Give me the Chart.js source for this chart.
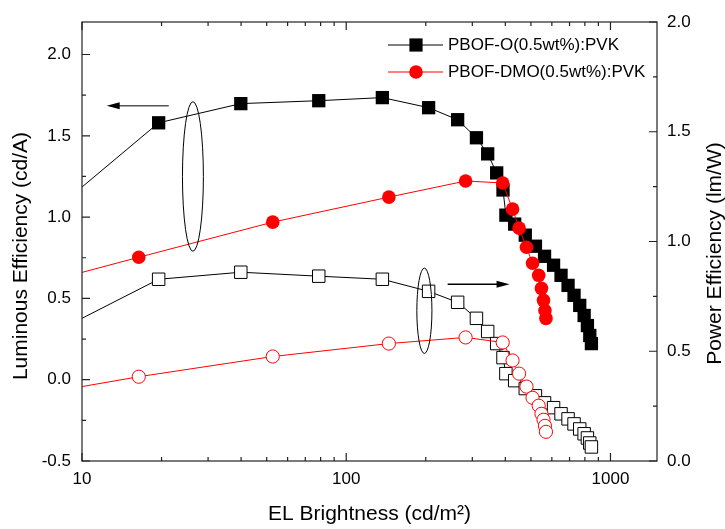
<!DOCTYPE html>
<html>
<head>
<meta charset="utf-8">
<script src="https://cdn.jsdelivr.net/npm/chart.js@4"></script>
<style>
  body { margin: 0; background: #fff; }
</style>
</head>
<body>
<canvas id="chart" width="725" height="529"></canvas>
<script>
// PBOF-O(0.5wt%):PVK  (first point is where the line enters at the left edge)
const oBrightness = [10, 19.5, 39.9, 78.7, 137, 205, 264, 311, 343, 371, 392, 402, 434, 476, 520, 563, 609, 650, 691, 728, 765, 795, 818, 835, 847];
const oLumEff = [1.185, 1.58, 1.698, 1.716, 1.735, 1.673, 1.599, 1.488, 1.389, 1.272, 1.167, 1.012, 0.957, 0.889, 0.821, 0.759, 0.704, 0.642, 0.58, 0.519, 0.457, 0.395, 0.333, 0.272, 0.222];
const oPowEff = [0.65, 0.828, 0.86, 0.842, 0.828, 0.773, 0.723, 0.65, 0.59, 0.535, 0.471, 0.398, 0.366, 0.33, 0.297, 0.265, 0.243, 0.215, 0.192, 0.169, 0.146, 0.124, 0.105, 0.082, 0.064];

// PBOF-DMO(0.5wt%):PVK
const dBrightness = [10, 16.4, 52.7, 145, 283, 391, 426, 451, 481, 507, 535, 548, 558, 565, 570];
const dLumEff = [0.66, 0.753, 0.969, 1.123, 1.222, 1.21, 1.049, 0.932, 0.815, 0.716, 0.642, 0.562, 0.488, 0.426, 0.377];
const dPowEff = [0.339, 0.384, 0.476, 0.535, 0.563, 0.54, 0.458, 0.398, 0.339, 0.288, 0.252, 0.215, 0.188, 0.16, 0.133];

const xTicks = [10, 100, 1000];
const leftTicks = [-0.5, 0, 0.5, 1, 1.5, 2];
const rightTicks = [0, 0.5, 1, 1.5, 2];

const FONT = '"Liberation Sans", Arial, sans-serif';
Chart.defaults.font.family = FONT;

const pts = (xs, ys) => xs.map((x, i) => ({ x: x, y: ys[i] }));
const hideFirst = r => ctx => ctx.dataIndex === 0 ? 0 : r;

// frame, inward ticks, arrows/ellipses, legend and y titles
const decor = {
  id: 'decor',
  afterDatasetsDraw(chart) {
    const ctx = chart.ctx;
    const { left, right, top, bottom } = chart.chartArea;
    const sx = chart.scales.x, sy = chart.scales.y, sy1 = chart.scales.y1;
    ctx.save();
    ctx.strokeStyle = '#222';
    ctx.lineWidth = 1.2;
    ctx.strokeRect(left, top, right - left, bottom - top);

    ctx.beginPath();
    const xMinor = [];
    [10, 100].forEach(d => { for (let k = 2; k <= 9; k++) xMinor.push(k * d); });
    xTicks.forEach(v => {
      const p = sx.getPixelForValue(v);
      ctx.moveTo(p, bottom); ctx.lineTo(p, bottom - 8);
      ctx.moveTo(p, top); ctx.lineTo(p, top + 8);
    });
    xMinor.forEach(v => {
      const p = sx.getPixelForValue(v);
      ctx.moveTo(p, bottom); ctx.lineTo(p, bottom - 4);
      ctx.moveTo(p, top); ctx.lineTo(p, top + 4);
    });
    leftTicks.forEach(v => {
      const p = sy.getPixelForValue(v);
      ctx.moveTo(left, p); ctx.lineTo(left + 8, p);
      if (v + 0.25 < 2.2) {
        const q = sy.getPixelForValue(v + 0.25);
        ctx.moveTo(left, q); ctx.lineTo(left + 4, q);
      }
    });
    rightTicks.forEach(v => {
      const p = sy1.getPixelForValue(v);
      ctx.moveTo(right, p); ctx.lineTo(right - 8, p);
      if (v + 0.25 < 2) {
        const q = sy1.getPixelForValue(v + 0.25);
        ctx.moveTo(right, q); ctx.lineTo(right - 4, q);
      }
    });
    ctx.stroke();

    // ellipses marking which curves belong to which axis
    ctx.lineWidth = 1;
    ctx.strokeStyle = '#000';
    const ell = (scale, x0, x1, y0, y1) => {
      const a = sx.getPixelForValue(x0), b = sx.getPixelForValue(x1);
      const c = scale.getPixelForValue(y0), d = scale.getPixelForValue(y1);
      ctx.beginPath();
      ctx.ellipse((a + b) / 2, (c + d) / 2, Math.abs(b - a) / 2, Math.abs(d - c) / 2, 0, 0, Math.PI * 2);
      ctx.stroke();
    };
    ell(sy, 24.0, 28.8, 1.71, 0.79);
    ell(sy1, 185, 211, 0.879, 0.49);

    const arrow = (scale, xFrom, xTip, yv, color) => {
      const a = sx.getPixelForValue(xFrom), t = sx.getPixelForValue(xTip), y = scale.getPixelForValue(yv);
      const dir = t > a ? 1 : -1;
      ctx.strokeStyle = color;
      ctx.lineWidth = 1.4;
      ctx.beginPath();
      ctx.moveTo(a, y); ctx.lineTo(t - dir * 8, y);
      ctx.stroke();
      ctx.fillStyle = '#000';
      ctx.beginPath();
      ctx.moveTo(t, y);
      ctx.lineTo(t - dir * 13, y - 3.5);
      ctx.lineTo(t - dir * 13, y + 3.5);
      ctx.closePath();
      ctx.fill();
    };
    arrow(sy, 21.3, 12.4, 1.685, '#555');
    arrow(sy1, 242, 415, 0.805, '#000');
    ctx.restore();
  },
  afterDraw(chart) {
    const ctx = chart.ctx;
    ctx.save();
    // legend
    ctx.font = '17px ' + FONT;
    ctx.textBaseline = 'middle';
    ctx.textAlign = 'left';
    const rows = [
      { y: 45, color: '#000', shape: 'rect', label: 'PBOF-O(0.5wt%):PVK' },
      { y: 72, color: '#ff0000', shape: 'circle', label: 'PBOF-DMO(0.5wt%):PVK' }
    ];
    rows.forEach(r => {
      ctx.strokeStyle = r.color;
      ctx.fillStyle = r.color;
      ctx.lineWidth = 1;
      ctx.beginPath();
      ctx.moveTo(388, r.y); ctx.lineTo(443, r.y);
      ctx.stroke();
      if (r.shape === 'rect') {
        ctx.fillRect(416 - 6.6, r.y - 6.6, 13.2, 13.2);
      } else {
        ctx.beginPath();
        ctx.arc(416, r.y, 6.8, 0, Math.PI * 2);
        ctx.fill();
      }
      ctx.fillStyle = '#000';
      ctx.fillText(r.label, 448, r.y);
    });

    // y axis titles (both read bottom to top)
    ctx.font = '21px ' + FONT;
    ctx.textAlign = 'center';
    ctx.fillStyle = '#000';
    const vtext = (txt, x, y) => {
      ctx.save();
      ctx.translate(x, y);
      ctx.rotate(-Math.PI / 2);
      ctx.fillText(txt, 0, 0);
      ctx.restore();
    };
    vtext('Luminous Efficiency (cd/A)', 21, 256);
    vtext('Power Efficiency (lm/W)', 715.5, 253.5);
    ctx.restore();
  }
};

const tickFont = { size: 17, family: FONT };

new Chart(document.getElementById('chart').getContext('2d'), {
  type: 'line',
  data: {
    datasets: [
      {
        label: 'PBOF-DMO(0.5wt%):PVK',
        data: pts(dBrightness, dLumEff),
        yAxisID: 'y',
        borderColor: '#ff0000',
        borderWidth: 1,
        backgroundColor: '#ff0000',
        pointStyle: 'circle',
        pointRadius: hideFirst(6.8),
        pointBorderWidth: 0,
        order: 1
      },
      {
        label: 'PBOF-DMO PE',
        data: pts(dBrightness, dPowEff),
        yAxisID: 'y1',
        borderColor: '#ff0000',
        borderWidth: 1,
        backgroundColor: '#ffffff',
        pointStyle: 'circle',
        pointRadius: hideFirst(6.6),
        pointBorderWidth: 1,
        order: 1
      },
      {
        label: 'PBOF-O(0.5wt%):PVK',
        data: pts(oBrightness, oLumEff),
        yAxisID: 'y',
        borderColor: '#000',
        borderWidth: 1,
        backgroundColor: '#000',
        pointStyle: 'rect',
        pointRadius: hideFirst(9.4),
        pointBorderWidth: 0,
        order: 2
      },
      {
        label: 'PBOF-O PE',
        data: pts(oBrightness, oPowEff),
        yAxisID: 'y1',
        borderColor: '#000',
        borderWidth: 1,
        backgroundColor: '#ffffff',
        pointStyle: 'rect',
        pointRadius: hideFirst(8.8),
        pointBorderWidth: 1,
        order: 2
      }
    ]
  },
  options: {
    responsive: false,
    animation: false,
    devicePixelRatio: 1,
    layout: { padding: { top: 22, left: 0, right: 0, bottom: 0 } },
    plugins: { legend: { display: false }, tooltip: { enabled: false } },
    elements: { line: { tension: 0 } },
    scales: {
      x: {
        type: 'logarithmic',
        position: 'bottom',
        min: 10,
        max: 1500,
        afterBuildTicks: s => { s.ticks = xTicks.map(v => ({ value: v })); },
        afterFit: s => { s.height = 68; },
        grid: { display: false, drawTicks: false },
        border: { display: false },
        ticks: { color: '#000', font: tickFont, padding: 8, maxRotation: 0, autoSkip: false, callback: v => String(v) },
        title: { display: true, text: 'EL Brightness (cd/m²)', color: '#000', font: { size: 21, family: FONT }, padding: { top: 0, bottom: 2 } }
      },
      y: {
        type: 'linear',
        position: 'left',
        min: -0.5,
        max: 2.2,
        afterBuildTicks: s => { s.ticks = leftTicks.map(v => ({ value: v })); },
        afterFit: s => { s.width = 82; },
        grid: { display: false, drawTicks: false },
        border: { display: false },
        ticks: { color: '#000', font: tickFont, padding: 11, autoSkip: false, callback: v => v.toFixed(1) }
      },
      y1: {
        type: 'linear',
        position: 'right',
        min: 0,
        max: 2,
        afterBuildTicks: s => { s.ticks = rightTicks.map(v => ({ value: v })); },
        afterFit: s => { s.width = 68; },
        grid: { display: false, drawTicks: false },
        border: { display: false },
        ticks: { color: '#000', font: tickFont, padding: 10, autoSkip: false, callback: v => v.toFixed(1) }
      }
    }
  },
  plugins: [decor]
});
</script>
</body>
</html>
